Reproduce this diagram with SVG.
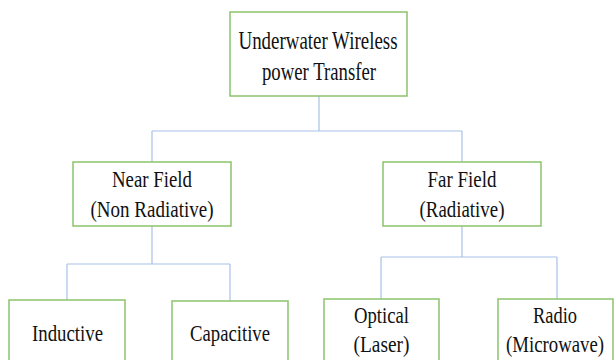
<svg xmlns="http://www.w3.org/2000/svg" width="614" height="360" viewBox="0 0 614 360">
  <style>
    .box { fill: #ffffff; stroke: #8cc36b; stroke-width: 1.5; }
    .wire { fill: none; stroke: #a8c1ea; stroke-width: 1.2; }
    text { font-family: "Liberation Serif", "Times New Roman", serif; font-size: 23px; fill: #111111; text-anchor: middle; }
  </style>
  <rect width="614" height="360" fill="#ffffff"/>

  <g id="connectors">
    <path class="wire" d="M319 96 V131 M152 131 H462 M152 131 V162 M462 131 V162"/>
    <path class="wire" d="M152 226 V264 M67 264 H230 M67 264 V300 M230 264 V301"/>
    <path class="wire" d="M462 226 V257 M381 257 H557 M381 257 V299 M557 257 V299"/>
  </g>

  <g id="root">
    <rect class="box" x="230" y="12" width="177" height="84"/>
    <text x="318" y="49" style="font-size:25px" textLength="159" lengthAdjust="spacingAndGlyphs">Underwater Wireless</text>
    <text x="319" y="80" style="font-size:25px" textLength="114" lengthAdjust="spacingAndGlyphs">power Transfer</text>
  </g>

  <g id="near-field">
    <rect class="box" x="73" y="162" width="158" height="64"/>
    <text x="152" y="187" textLength="80" lengthAdjust="spacingAndGlyphs">Near Field</text>
    <text x="152" y="217" textLength="123" lengthAdjust="spacingAndGlyphs">(Non Radiative)</text>
  </g>

  <g id="far-field">
    <rect class="box" x="383" y="162" width="158" height="64"/>
    <text x="462" y="187" textLength="69" lengthAdjust="spacingAndGlyphs">Far Field</text>
    <text x="462" y="217" textLength="85" lengthAdjust="spacingAndGlyphs">(Radiative)</text>
  </g>

  <g id="inductive">
    <rect class="box" x="9" y="300" width="116" height="80"/>
    <text x="67.5" y="341" textLength="71" lengthAdjust="spacingAndGlyphs">Inductive</text>
  </g>

  <g id="capacitive">
    <rect class="box" x="172" y="301" width="116" height="80"/>
    <text x="230" y="341" textLength="80" lengthAdjust="spacingAndGlyphs">Capacitive</text>
  </g>

  <g id="optical">
    <rect class="box" x="324" y="299" width="115" height="80"/>
    <text x="381.5" y="323" textLength="55" lengthAdjust="spacingAndGlyphs">Optical</text>
    <text x="381.5" y="352" textLength="56" lengthAdjust="spacingAndGlyphs">(Laser)</text>
  </g>

  <g id="radio">
    <rect class="box" x="498" y="299" width="115" height="80"/>
    <text x="555" y="323" textLength="44" lengthAdjust="spacingAndGlyphs">Radio</text>
    <text x="555" y="352" textLength="98" lengthAdjust="spacingAndGlyphs">(Microwave)</text>
  </g>
</svg>
